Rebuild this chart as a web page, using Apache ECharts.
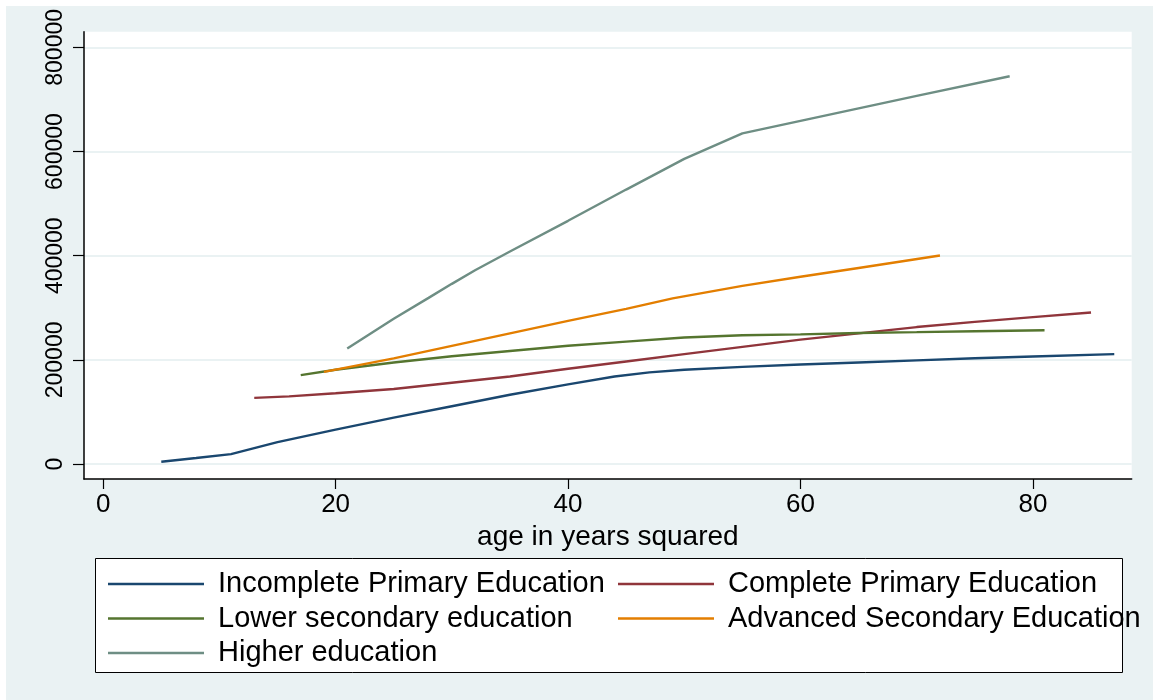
<!DOCTYPE html>
<html>
<head>
<meta charset="utf-8">
<script src="https://cdn.jsdelivr.net/npm/echarts@6/dist/echarts.min.js"></script>
<style>
html,body{margin:0;padding:0;background:#fff;}
#c{position:absolute;left:6px;top:6px;width:1147px;height:694px;}
</style>
</head>
<body>
<div id="c"></div>
<script>
// ---- data ----
const seriesNames = ['Incomplete Primary Education', 'Complete Primary Education', 'Lower secondary education', 'Advanced Secondary Education', 'Higher education'];
const seriesColors = ['#1a476f', '#90353b', '#55752f', '#e37e00', '#6e8e84'];

const xIncomplete = [5, 8, 11, 15, 20, 25, 30, 35, 40, 44, 47, 50, 55, 60, 65, 70, 75, 80, 87];
const yIncomplete = [4400, 11500, 19000, 42000, 66000, 89000, 111000, 133000, 153000, 168000, 176000, 181000, 186500, 191000, 195000, 199000, 203000, 206400, 211000];

const xComplete = [13, 16, 20, 25, 30, 35, 40, 45, 50, 55, 60, 65, 70, 75, 80, 85];
const yComplete = [127000, 130000, 136000, 144000, 156000, 168000, 183000, 197000, 211000, 225000, 239000, 251000, 263000, 273000, 282000, 291000];

const xLowerSec = [17, 20, 25, 30, 35, 40, 45, 50, 55, 60, 65, 70, 75, 81];
const yLowerSec = [170700, 181000, 195000, 207000, 217000, 227000, 235000, 243000, 247300, 249000, 251700, 253300, 255000, 257000];

const xAdvSec = [19, 25, 30, 35, 40, 45, 49, 55, 60, 65, 72];
const yAdvSec = [177000, 203000, 227000, 251000, 275000, 298000, 318000, 342000, 359500, 376500, 400500];

const xHigher = [21, 25, 28, 30, 32, 35, 40, 45, 50, 55, 60, 65, 70, 78];
const yHigher = [221800, 279000, 319000, 346000, 372000, 408000, 467000, 527000, 586000, 635000, 659000, 683000, 707000, 744600];

const xTicks = [0, 20, 40, 60, 80];
const yTicks = [0, 200000, 400000, 600000, 800000];
const xTitle = 'age in years squared';

// ---- build chart ----
const allX = [xIncomplete, xComplete, xLowerSec, xAdvSec, xHigher];
const allY = [yIncomplete, yComplete, yLowerSec, yAdvSec, yHigher];
const FONT = '"Liberation Sans", Arial, Helvetica, sans-serif';

const series = seriesNames.map((name, i) => ({
  name: name,
  type: 'line',
  symbol: 'none',
  smooth: false,
  color: seriesColors[i],
  itemStyle: { color: seriesColors[i] },
  lineStyle: { width: 2.4, color: seriesColors[i] },
  data: allX[i].map((x, j) => [x, allY[i][j]]),
  z: 3
}));

const legendBase = {
  orient: 'vertical',
  top: 563,
  padding: 0,
  icon: 'rect',
  itemWidth: 96,
  itemHeight: 2.6,
  itemGap: 4.5,
  selectedMode: false,
  textStyle: { fontFamily: FONT, fontSize: 29, color: '#000', lineHeight: 30, padding: [0, 0, 0, 9] }
};

const chart = echarts.init(document.getElementById('c'));
chart.setOption({
  animation: false,
  backgroundColor: '#EAF2F3',
  textStyle: { fontFamily: FONT },
  grid: { left: 78, right: 21.3, top: 25, bottom: 221, show: true, backgroundColor: '#ffffff', borderWidth: 0, containLabel: false },
  xAxis: {
    type: 'value',
    min: -1.65,
    max: 88.5,
    name: xTitle,
    nameLocation: 'middle',
    nameGap: 31,
    nameTextStyle: { fontFamily: FONT, fontSize: 28, color: '#000' },
    axisLine: { show: true, onZero: false, lineStyle: { color: '#000', width: 1.5 } },
    axisTick: { show: true, length: 10, customValues: xTicks, lineStyle: { color: '#000', width: 1.2 } },
    axisLabel: { customValues: xTicks, fontFamily: FONT, fontSize: 26, color: '#000', margin: 13, formatter: v => String(v) },
    splitLine: { show: false }
  },
  yAxis: {
    type: 'value',
    min: -28700,
    max: 830100,
    axisLine: { show: true, onZero: false, lineStyle: { color: '#000', width: 1.5 } },
    axisTick: { show: true, length: 11, customValues: yTicks, lineStyle: { color: '#000', width: 1.2 } },
    axisLabel: { customValues: yTicks, rotate: 90, fontFamily: FONT, fontSize: 23, color: '#000', margin: 17, formatter: v => String(v) },
    splitLine: { show: true, lineStyle: { color: '#EAF2F3', width: 2 } }
  },
  legend: [
    Object.assign({}, legendBase, { left: 102, data: [seriesNames[0], seriesNames[2], seriesNames[4]] }),
    Object.assign({}, legendBase, { left: 612, data: [seriesNames[1], seriesNames[3]] })
  ],
  graphic: [{
    type: 'rect',
    left: 89,
    top: 552,
    z: 0,
    shape: { width: 1027, height: 114 },
    style: { fill: '#ffffff', stroke: '#000000', lineWidth: 1 }
  }],
  series: series
});
</script>
</body>
</html>
